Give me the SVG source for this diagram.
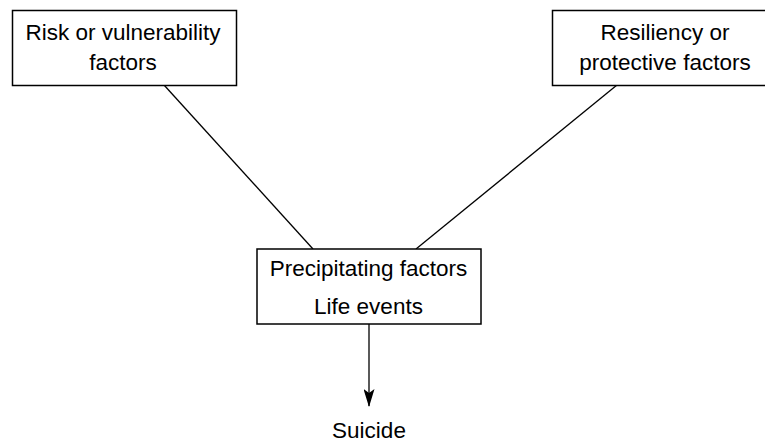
<svg xmlns="http://www.w3.org/2000/svg" width="765" height="442" viewBox="0 0 765 442">
<style>
.box{fill:#fff;stroke:#000;stroke-width:1.5}
.t{font-family:"Liberation Sans",Arial,sans-serif;font-size:22.5px;fill:#000;text-anchor:middle}
.c{stroke:#000;stroke-width:1.3;fill:none}
</style>
<defs>
<marker id="ah" markerWidth="18" markerHeight="11" refX="17" refY="5.5" orient="auto" markerUnits="userSpaceOnUse" viewBox="0 0 18 11">
<path d="M0,0 L18,5.5 L0,11 L4,5.5 Z" fill="#000"/>
</marker>
</defs>
<g id="connectors">
<line class="c" x1="164" y1="85" x2="313" y2="249"/>
<line class="c" x1="617" y1="85" x2="416" y2="249"/>
<line class="c" x1="369" y1="324" x2="369" y2="406" marker-end="url(#ah)"/>
</g>
<g id="risk">
<rect class="box" x="12.5" y="10.5" width="224" height="75"/>
<text class="t" x="123" y="40">Risk or vulnerability</text>
<text class="t" x="123" y="69.5">factors</text>
</g>
<g id="resiliency">
<rect class="box" x="552.5" y="10.5" width="220" height="75"/>
<text class="t" x="665" y="40">Resiliency or</text>
<text class="t" x="665" y="70">protective factors</text>
</g>
<g id="precipitating">
<rect class="box" x="257" y="249" width="224" height="75"/>
<text class="t" x="368.5" y="275.5">Precipitating factors</text>
<text class="t" x="368.5" y="313.5">Life events</text>
</g>
<g id="suicide">
<text class="t" x="369" y="438">Suicide</text>
</g>
</svg>
